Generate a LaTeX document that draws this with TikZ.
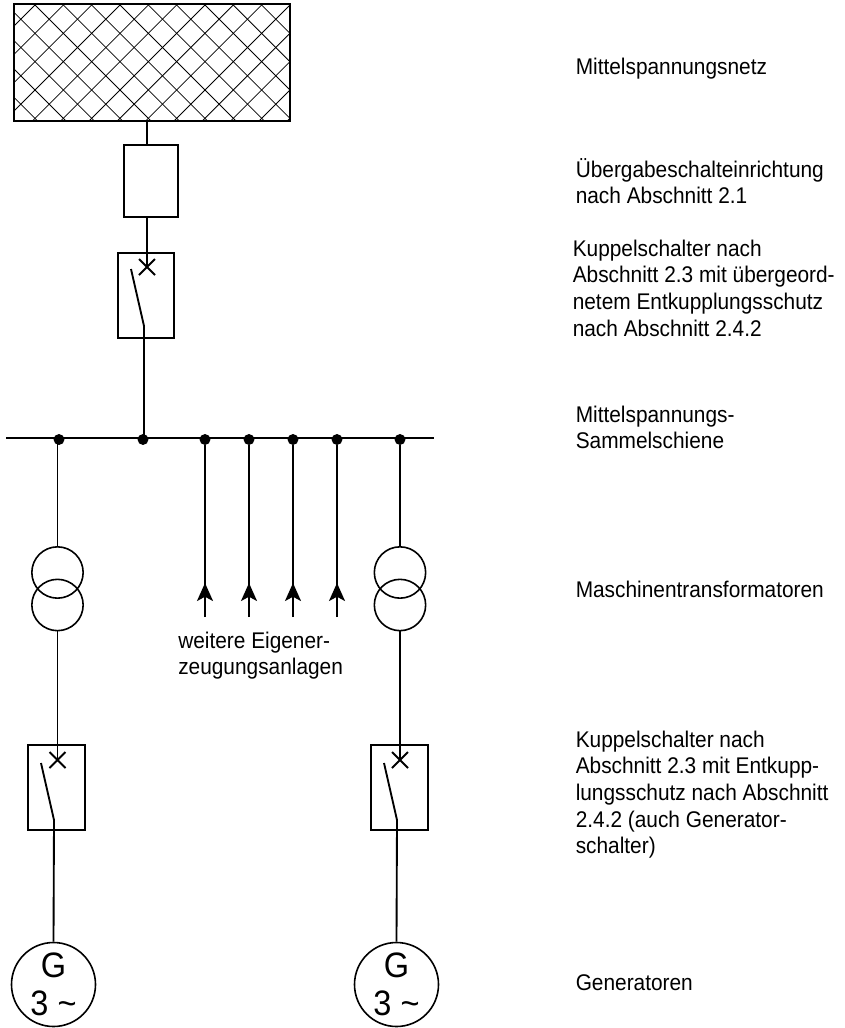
\documentclass[tikz,border=0pt]{standalone}
\usepackage{fontspec}
\setmainfont[FakeStretch=0.92]{Liberation Sans}
\usetikzlibrary{arrows.meta}
\tikzset{
  x=0.75pt,y=-0.75pt,
  wire/.style={line width=1.4pt,black},
  thick box/.style={draw=black,line width=1.3pt,fill=none,inner sep=0pt},
  hatch/.style={line width=0.6pt,black},
  junction/.style={circle,fill=black,draw=none,minimum size=8.2pt,inner sep=0pt},
  wind/.style={circle,draw=black,line width=1.2pt,minimum size=38.5pt,inner sep=0pt},
  gen/.style={circle,draw=black,line width=1.2pt,minimum size=63pt,inner sep=0pt},
  lbl/.style={anchor=west,align=left,inner sep=0pt,font=\fontsize{17}{20}\selectfont},
  big/.style={inner sep=0pt,font=\fontsize{26.5}{26.5}\selectfont},
  head/.style={-{Stealth[length=13.5pt,width=12pt,inset=3.2pt]},wire},
  xmark/.pic={\draw[wire] (-8,-8) -- (8,8) (-8,8) -- (8,-8);},
}
\begin{document}
\begin{tikzpicture}
\useasboundingbox (0,0) rectangle (844,1028);
% network
\begin{scope}
  \clip (14,4.5) rectangle (290,121);
  \foreach \k in {-6,...,16}{
    \draw[hatch] ({35+28.33*\k},5) -- ({35+28.33*\k+130},135);
    \draw[hatch] ({35+28.33*\k},5) -- ({35+28.33*\k-130},135);
  }
\end{scope}
\node[thick box,minimum width=207pt,minimum height=87.5pt,line width=1.5pt] (net) at (152,62.75) {};
\node[thick box,minimum width=40.5pt,minimum height=54pt] (fuse) at (151,181) {};
\node[thick box,minimum width=42pt,minimum height=64pt] (sw0) at (146,295.5) {};
\node[thick box,minimum width=42.5pt,minimum height=64pt] (sw1) at (56.5,787.5) {};
\node[thick box,minimum width=42.5pt,minimum height=64pt] (sw2) at (399.5,787.5) {};
% bus
\coordinate (busL) at (6,438);
\coordinate (busR) at (434,438);
\node[junction] (j1) at (59,439.5) {};
\node[junction] (j0) at (143,439.5) {};
\node[junction] (a1) at (205,439.5) {};
\node[junction] (a2) at (249,439.5) {};
\node[junction] (a3) at (293,439.5) {};
\node[junction] (a4) at (337,439.5) {};
\node[junction] (j2) at (400,439.5) {};
\draw[wire] (busL) -- (busR);
% top chain
\coordinate (x0) at (147,267);
\coordinate (b0a) at (131,269);
\coordinate (b0b) at (144,326);
\draw[wire] (x0 |- net.south) -- (x0 |- fuse.north);
\draw[wire] (x0 |- fuse.south) -- (x0);
\pic at (x0) {xmark};
\draw[wire] (b0a) -- (b0b) -- (b0b |- j0);
% transformers
\node[wind] (t1a) at (57.5,572.5) {};
\node[wind] (t1b) at (57.5,605) {};
\node[wind] (t2a) at (400,572.5) {};
\node[wind] (t2b) at (400,605) {};
\draw[wire] (t1a.north |- j1) -- (t1a.north);
\draw[wire] (j2) -- (t2a.north);
% breakers
\coordinate (x1) at (57.5,760);
\coordinate (x2) at (400,760);
\coordinate (b1a) at (41,763);
\coordinate (b1b) at (54,820);
\coordinate (b2a) at (384,763);
\coordinate (b2b) at (397,820);
% generators
\node[gen] (g1) at (53.5,984.5) {};
\node[gen] (g2) at (396.5,984.5) {};
\node[big] (g1t) at (53.5,965.5) {G};
\node[big] (g1n) at (53.5,1003) {3 \char"007E};
\node[big] (g2t) at (396.5,965.5) {G};
\node[big] (g2n) at (396.5,1003) {3 \char"007E};
\draw[wire] (t1b.south) -- (x1);
\pic at (x1) {xmark};
\draw[wire] (b1a) -- (b1b) -- (g1.north);
\draw[wire] (t2b.south) -- (x2);
\pic at (x2) {xmark};
\draw[wire] (b2a) -- (b2b) -- (g2.north);
% arrows
\foreach \n/\xx in {a1/205,a2/249,a3/293,a4/337}{
  \coordinate (\n f) at (\xx,617);
  \coordinate (\n t) at (\xx,583);
  \draw[wire] (\n) -- (\n f);
  \draw[head] (\n f) -- (\n t);
}
% labels
\node[lbl] (l1) at (575.5,68.5) {Mittelspannungsnetz};
\node[lbl] (l2) at (575.5,181) {Übergabeschalteinrichtung\\nach Abschnitt 2.1};
\node[lbl] (l3) at (572.5,288) {Kuppelschalter nach\\Abschnitt 2.3 mit übergeord-\\netem Entkupplungsschutz\\nach Abschnitt 2.4.2};
\node[lbl] (l4) at (575.5,427.5) {Mittelspannungs-\\Sammelschiene};
\node[lbl] (l5) at (575.5,589) {Maschinentransformatoren};
\node[lbl] (l6) at (575.5,794.5) {Kuppelschalter nach\\Abschnitt 2.3 mit Entkupp-\\lungsschutz nach Abschnitt\\2.4.2 (auch Generator-\\schalter)};
\node[lbl] (l7) at (575.5,982.5) {Generatoren};
\node[lbl] (l8) at (178,655.5) {weitere Eigener-\\zeugungsanlagen};
\end{tikzpicture}
\end{document}
